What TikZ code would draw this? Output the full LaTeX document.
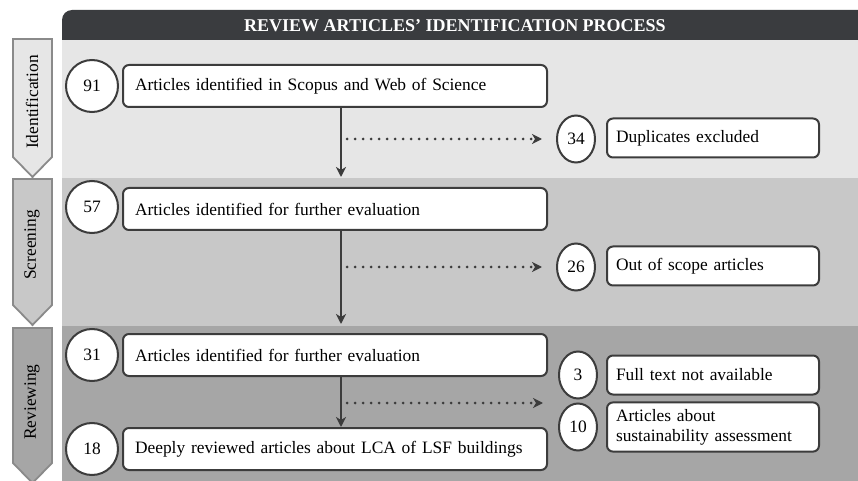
\documentclass[tikz,border=0pt]{standalone}
\usepackage{fontspec}
\setmainfont{Liberation Serif}
\usetikzlibrary{shapes.geometric,arrows.meta}
\definecolor{headgray}{HTML}{3A3C3F}
\definecolor{bandone}{HTML}{E6E6E6}
\definecolor{bandtwo}{HTML}{C8C8C8}
\definecolor{bandthree}{HTML}{A6A6A6}
\definecolor{tabedge}{HTML}{8A8A8A}
\definecolor{linegray}{HTML}{3C3C3C}

\begin{document}
\begin{tikzpicture}[x=0.5pt,y=-0.5pt,>={Stealth[length=5pt,width=5pt,inset=1.5pt]},
  txt/.style={font=\fontsize{8.7}{10}\selectfont},
  num/.style={txt,shape=circle,draw=linegray,fill=white,line width=1pt,minimum size=26pt,inner sep=0pt},
  subnum/.style={txt,shape=ellipse,draw=linegray,fill=white,line width=1pt,minimum width=19pt,minimum height=23.5pt,inner sep=0pt},
  mainbox/.style={txt,draw=linegray,fill=white,line width=1pt,rounded corners=3pt,anchor=west,
    text width=200pt,align=left,inner xsep=6pt,minimum height=21pt},
  sidebox/.style={txt,draw=linegray,fill=white,line width=1pt,rounded corners=3pt,anchor=west,
    text width=97pt,align=left,inner xsep=4.5pt,minimum height=19.5pt},
  tab/.style={draw=tabedge,line width=0.9pt},
  flow/.style={->,draw=linegray,line width=1pt},
  skip/.style={->,draw=linegray,line width=1.5pt,line cap=round,dash pattern=on 0pt off 4pt}]
\useasboundingbox (0,0) rectangle (858,481);

% header and bands
\fill[headgray] (62,40) [rounded corners=5pt] -- (62,10) [sharp corners] -- (858,10) -- (858,40) -- cycle;
\node (head) at (455,26) [font=\fontsize{9}{10}\selectfont\bfseries,text=white] {REVIEW ARTICLES’ IDENTIFICATION PROCESS};
\fill[bandone]   (62,40)  rectangle (858,178);
\fill[bandtwo]   (62,178) rectangle (858,326);
\fill[bandthree] (62,326) rectangle (858,481);

% stage tabs
\draw[tab,fill=bandone]   (13,39)  -- (52,39)  -- (52,157) -- (32.5,177) -- (13,157) -- cycle;
\draw[tab,fill=bandtwo]   (13,179) -- (52,179) -- (52,305) -- (32.5,325) -- (13,305) -- cycle;
\draw[tab,fill=bandthree] (13,328) -- (52,328) -- (52,463) -- (32.5,483) -- (13,463) -- cycle;
\node (ident)  at (32,102) [txt,rotate=90] {Identification};
\node (screen) at (32,245) [txt,rotate=90] {Screening};
\node (review) at (32,402) [txt,rotate=90] {Reviewing};

% counts and boxes
\node (c91) at (92,86)   [num] {91};
\node (b91) at (122,86)  [mainbox] {Articles identified  in Scopus and Web of Science};
\node (c34) at (576,139) [subnum] {34};
\node (b34) at (606,138) [sidebox] {Duplicates  excluded};
\node (c57) at (92,207)  [num] {57};
\node (b57) at (122,209) [mainbox] {Articles identified  for further  evaluation};
\node (c26) at (576,267) [subnum] {26};
\node (b26) at (606,266) [sidebox] {Out of scope articles};
\node (c31) at (92,355)  [num] {31};
\node (b31) at (122,355) [mainbox] {Articles identified  for further  evaluation};
\node (c18) at (92,449)  [num] {18};
\node (b18) at (122,449) [mainbox] {Deeply reviewed articles about LCA of LSF buildings};
\node (c3)  at (578,375) [subnum] {3};
\node (b3)  at (606,375) [sidebox] {Full text not available};
\node (c10) at (578,427) [subnum] {10};
\node (b10) at (606,427) [sidebox,minimum height=24pt] {Articles about\\sustainability  assessment};

% connectors
\coordinate (vx) at (341,0);
\coordinate (e1) at (341,177);
\coordinate (e2) at (341,324);
\coordinate (m3) at (543,403);
\draw [flow] (vx |- b91.south) -- (e1);
\draw [flow] (vx |- b57.south) -- (e2);
\draw [flow] (vx |- b31.south) -- (vx |- b18.north);
\draw [skip] ([xshift=3pt]vx |- c34) -- ([xshift=-7pt]c34.west);
\draw [skip] ([xshift=3pt]vx |- c26) -- ([xshift=-7pt]c26.west);
\draw [skip] ([xshift=3pt]vx |- m3) -- (m3);
\end{tikzpicture}
\end{document}
